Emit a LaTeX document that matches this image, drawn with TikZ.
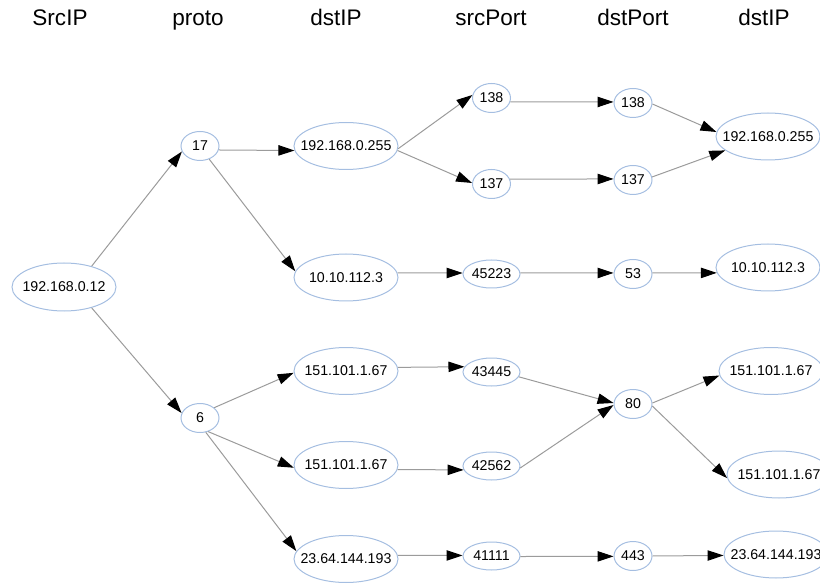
\documentclass[tikz,border=0pt]{standalone}
\usepackage{fontspec}
\setmainfont{Liberation Sans}
\usetikzlibrary{shapes.geometric,arrows.meta}

\definecolor{edgegray}{RGB}{155,155,155}
\definecolor{ringblue}{RGB}{165,190,225}

% zero-width label box, so an ellipse keeps its fixed size
\newcommand{\lbl}[1]{\makebox[0pt]{#1}}

\tikzset{
  header/.style={anchor=base, inner sep=0pt, font=\fontsize{16.9pt}{18pt}\selectfont},
  val/.style={ellipse, draw=ringblue, line width=0.75pt, inner sep=0pt,
              font=\fontsize{10.65pt}{12pt}\selectfont},
  ipbox/.style={val, minimum width=78pt, minimum height=35.25pt},
  portbox/.style={val, minimum width=42.75pt, minimum height=21pt},
  tinybox/.style={val, minimum width=28.5pt, minimum height=21.75pt},
  edge/.style={draw=edgegray, line width=0.75pt,
               -{Triangle[length=12pt, width=7.8pt, color=black, fill=black]}}
}

\begin{document}
\begin{tikzpicture}[x=0.75pt, y=-0.75pt]
\useasboundingbox (0,0) rectangle (820,584);

% column titles
\node[header] (h1) at (60,25.5)  {SrcIP};
\node[header] (h2) at (198,25.5) {proto};
\node[header] (h3) at (336,25.5) {dstIP};
\node[header] (h4) at (491,25.5) {srcPort};
\node[header] (h5) at (633,25.5) {dstPort};
\node[header] (h6) at (764,25.5) {dstIP};

% source address
\node[ipbox, minimum height=36pt] (src) at (64,287) {\lbl{192.168.0.12}};

% protocols
\node[tinybox] (p17) at (200,146) {\lbl{17}};
\node[tinybox] (p6)  at (200,418) {\lbl{6}};

% destination addresses
\node[ipbox] (d1) at (346,146)   {\lbl{192.168.0.255}};
\node[ipbox] (d2) at (346,277.5) {\lbl{10.10.112.3}};
\node[ipbox] (d3) at (346,371)   {\lbl{151.101.1.67}};
\node[ipbox] (d4) at (346,465)   {\lbl{151.101.1.67}};
\node[ipbox] (d5) at (346,559)   {\lbl{23.64.144.193}};

% source ports
\node[tinybox] (s138)   at (491.5,98)  {\lbl{138}};
\node[tinybox] (s137)   at (491.5,184) {\lbl{137}};
\node[portbox] (s45223) at (491.5,274) {\lbl{45223}};
\node[portbox] (s43445) at (491.5,372) {\lbl{43445}};
\node[portbox] (s42562) at (491.5,466) {\lbl{42562}};
\node[portbox] (s41111) at (491.5,556) {\lbl{41111}};

% destination ports
\node[tinybox] (t138) at (633,103) {\lbl{138}};
\node[tinybox] (t137) at (633,180) {\lbl{137}};
\node[tinybox] (t53)  at (633,274) {\lbl{53}};
\node[tinybox] (t80)  at (633,404) {\lbl{80}};
\node[tinybox] (t443) at (633,556) {\lbl{443}};

% destination addresses again
\node[ipbox] (r1) at (768,136.5) {\lbl{192.168.0.255}};
\node[ipbox] (r2) at (768,267.5) {\lbl{10.10.112.3}};
\node[ipbox] (r3) at (771,371)   {\lbl{151.101.1.67}};
\node[ipbox] (r4) at (779,474.5) {\lbl{151.101.1.67}};
\node[ipbox] (r5) at (776,554.5) {\lbl{23.64.144.193}};

% source -> protocol
\draw[edge] (src.37)  -- (p17.197);
\draw[edge] (src.-37) -- (p6.165);

% protocol -> destination address
\draw[edge] (p17.-12) -- (d1.185);
\draw[edge] (p17.-55) -- (d2.173);
\draw[edge] (p6.36)   -- (d3.182);
\draw[edge] (p6.-59)  -- (d4.183);
\draw[edge] (p6.-68)  -- (d5.171);

% destination address -> source port
\draw[edge] (d1.-3) -- (s138.171);
\draw[edge] (d1.-5) -- (s137.177);
\draw[edge] (d2.5)  -- (s45223.178);
\draw[edge] (d3.4.5) -- (s43445.169);
\draw[edge] (d4.-5.6) -- (s42562.188);
\draw[edge] (d5.4)  -- (s41111.179);

% source port -> destination port
\draw[edge] (s138.-12)  -- (t138.177);
\draw[edge] (s137.15)   -- (t137.177);
\draw[edge] (s45223.2)  -- (t53.177);
\draw[edge] (s43445.-10) -- (t80.177);
\draw[edge] (s42562.-4) -- (t80.183);
\draw[edge] (s41111.-1) -- (t443.181);

% destination port -> destination address
\draw[edge] (t138.-3) -- (r1.175);
\draw[edge] (t137.9)  -- (r1.198);
\draw[edge] (t53.3)   -- (r2.186);
\draw[edge] (t80.3)   -- (r3.185);
\draw[edge] (t80.-6)  -- (r4.184);
\draw[edge] (t443.0)  -- (r5.181);
\end{tikzpicture}
\end{document}
